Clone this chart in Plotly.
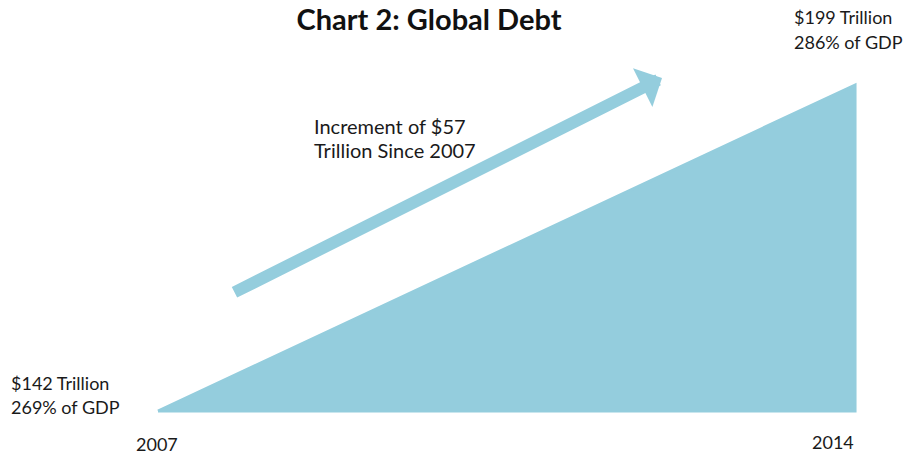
import plotly.graph_objects as go

years = [2007, 2014]
debt_trillion = [142, 199]
debt_pct_gdp = [269, 286]
increment = debt_trillion[1] - debt_trillion[0]

FILL = "#94CDDD"
FONT = "Lato"
TXT = "#1a1a1a"

W, H = 906, 454
ML, MR, MT, MB = 148, 41, 75, 33
PW, PH = W - ML - MR, H - MT - MB

fig = go.Figure()
fig.add_trace(go.Scatter(
    x=[years[0], years[1], years[1], years[0]],
    y=[debt_trillion[0], debt_trillion[1], debt_trillion[0], debt_trillion[0]],
    fill="toself", fillcolor=FILL, mode="lines",
    line=dict(color=FILL, width=3), hoverinfo="skip", showlegend=False,
))

ppx = 697 / 7.0
ppy = 326 / 57.0

def dx(px):
    return years[0] + (px - 158) / ppx

def dy(py):
    return debt_trillion[0] + (411 - py) / ppy

def paper_x(px):
    return (px - ML) / PW

def paper_y(py):
    return (H - MB - py) / PH

def label(text, px, py, xanchor="left", size=20):
    return dict(x=paper_x(px), y=paper_y(py), xref="paper", yref="paper", text=text,
                showarrow=False, xanchor=xanchor, yanchor="middle",
                font=dict(family=FONT, size=size, color=TXT))

annotations = [
    dict(x=dx(662), y=dy(78), ax=dx(233), ay=dy(293), xref="x", yref="y",
         axref="x", ayref="y", text="", showarrow=True, arrowhead=1,
         arrowsize=0.6, arrowwidth=12, arrowcolor=FILL, standoff=0, startstandoff=0),
    label(f"${debt_trillion[0]} Trillion", 9, 383, size=18),
    label(f"{debt_pct_gdp[0]}% of GDP", 9, 407, size=18),
    label(f"${debt_trillion[1]} Trillion", 792, 17, size=18),
    label(f"{debt_pct_gdp[1]}% of GDP", 792, 42, size=18),
    label(f"Increment of ${increment}", 312, 126),
    label(f"Trillion Since {years[0]}", 312, 150),
    label(str(years[0]), 157, 444, xanchor="center", size=18),
    label(str(years[1]), 856, 442, xanchor="right", size=18),
]

fig.update_layout(
    width=W, height=H,
    margin=dict(l=ML, r=MR, t=MT, b=MB),
    paper_bgcolor="white", plot_bgcolor="white",
    title=dict(text="<b>Chart 2: Global Debt</b>", x=429 / W, xanchor="center",
               y=1 - 20 / H, yanchor="middle",
               font=dict(family=FONT, size=29, color="#111111")),
    xaxis=dict(range=[years[0] - 0.1, years[1] + 0.1], visible=False, fixedrange=True),
    yaxis=dict(range=[debt_trillion[0] - 10 / ppy, debt_trillion[1] + 10 / ppy], visible=False, fixedrange=True),
    annotations=annotations,
    showlegend=False,
)

fig.write_html("out.html")
